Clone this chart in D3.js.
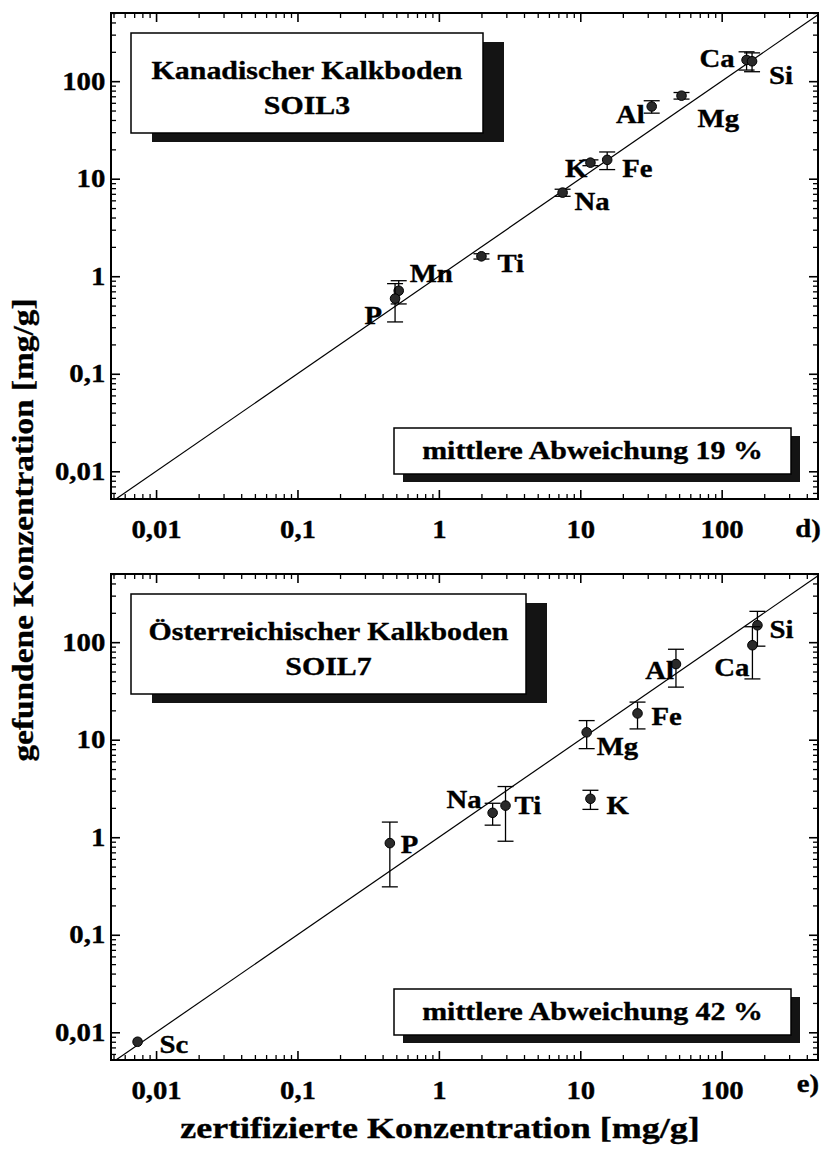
<!DOCTYPE html>
<html>
<head>
<meta charset="utf-8">
<script src="https://cdn.jsdelivr.net/npm/d3@7"></script>
<style>
  body { margin: 0; background: #fff; }
  text { font-family: "Liberation Serif", "Times New Roman", serif; font-weight: bold; fill: #000; stroke: #000; stroke-width: 0.35; }
</style>
</head>
<body>
<svg id="chart"></svg>
<script>
// SOIL3 - Kanadischer Kalkboden (panel d)
const elements3 = ["Ca", "Si", "Mg", "Al", "Fe", "K", "Na", "Ti", "Mn", "P"];
const certified3 = [150, 164, 52, 32, 15.5, 11.8, 7.5, 2.0, 0.52, 0.49];
const found3 = [165, 160, 71, 55, 15.6, 14.6, 7.2, 1.6, 0.71, 0.59];
const error3 = [35, 35, 5.5, 8, 3.2, 1.0, 0.6, 0.1, 0.19, 0.25];

// SOIL7 - Österreichischer Kalkboden (panel e)
const elements7 = ["Si", "Ca", "Al", "Fe", "Mg", "K", "Ti", "Na", "P", "Sc"];
const certified7 = [179, 165, 47.5, 25.4, 11.1, 11.8, 2.96, 2.4, 0.45, 0.0074];
const found7 = [149, 93, 59.6, 18.6, 11.9, 2.48, 2.11, 1.78, 0.87, 0.008];
const error7 = [58, 51, 25, 5.7, 3.8, 0.55, 1.2, 0.45, 0.56, 0];

const tickValues = [0.01, 0.1, 1, 10, 100];
const tickLabels = ["0,01", "0,1", "1", "10", "100"];

const titles3 = ["Kanadischer Kalkboden", "SOIL3"];
const titles7 = ["Österreichischer Kalkboden", "SOIL7"];
const deviation3 = "mittlere Abweichung 19 %";
const deviation7 = "mittlere Abweichung 42 %";
const xTitle = "zertifizierte Konzentration [mg/g]";
const yTitle = "gefundene Konzentration [mg/g]";

// label placement next to each dot: [dx, dy, anchor]
const labelPos3 = {
  Ca: [-12, 7, "end"], Si: [17, 23, "start"], Mg: [16, 31, "start"], Al: [-7, 17, "end"],
  K: [-3, 14, "end"], Fe: [15, 17, "start"], Na: [12, 17, "start"], Ti: [16, 16, "start"],
  Mn: [11, -9, "start"], P: [-13, 25, "end"]
};
const labelPos7 = {
  Si: [12, 13, "start"], Ca: [-3, 31, "end"], Al: [-2, 15, "end"], Fe: [14, 12, "start"],
  Mg: [10, 23, "start"], K: [16, 15, "start"], Ti: [9, 8, "start"], Na: [-11, -5, "end"],
  P: [11, 10, "start"], Sc: [22, 11, "start"]
};

const W = 829, H = 1162;
const SX = 1.15;          // scanned type is a bit wider than Liberation Serif
const plotH = 486;
const capW = 8;

const svg = d3.select("#chart").attr("width", W).attr("height", H);

const x = d3.scaleLog().domain([0.0048, 480]).range([111, 818]);
const yDomain = [0.0052, 500];

const isMajor = d => Math.abs(Math.log10(d) - Math.round(Math.log10(d))) < 1e-9;
const xMinor = x.ticks().filter(d => !isMajor(d));

function styleText(sel, size) {
  sel.attr("font-size", size)
    .attr("font-family", "'Liberation Serif', 'Times New Roman', serif")
    .attr("font-weight", "bold");
}

function stretchedText(g, px, py, str, size, anchor, sx) {
  return g.append("text")
    .attr("transform", `translate(${px},${py}) scale(${sx || SX},1)`)
    .attr("text-anchor", anchor || "middle")
    .attr("font-size", size)
    .text(str);
}

function drawPanel(top, elements, certified, found, errors, labelPos, titles, deviation, letter) {
  const y = d3.scaleLog().domain(yDomain).range([top + plotH, top]);
  const yMinor = y.ticks().filter(d => !isMajor(d));
  const [left, right] = x.range();
  const bottom = top + plotH;
  const g = svg.append("g");

  const clipId = "clip" + top;
  g.append("clipPath").attr("id", clipId)
    .append("rect").attr("x", left).attr("y", top).attr("width", right - left).attr("height", plotH);

  // minor ticks on all four sides
  const axes = [
    [d3.axisBottom(x).tickValues(xMinor), `translate(0,${bottom})`],
    [d3.axisTop(x).tickValues(xMinor), `translate(0,${top})`],
    [d3.axisLeft(y).tickValues(yMinor), `translate(${left},0)`],
    [d3.axisRight(y).tickValues(yMinor), `translate(${right},0)`]
  ];
  axes.forEach(([ax, tr]) => {
    g.append("g").attr("transform", tr)
      .call(ax.tickSize(-5).tickFormat(""))
      .call(a => a.select(".domain").remove())
      .selectAll("line").attr("stroke-width", 1.3);
  });

  // major ticks, labelled bottom and left
  const majors = [
    [d3.axisBottom(x).tickPadding(21).tickFormat((d, i) => tickLabels[i]), `translate(0,${bottom})`, true],
    [d3.axisTop(x).tickFormat(""), `translate(0,${top})`, false],
    [d3.axisLeft(y).tickPadding(5).tickFormat((d, i) => tickLabels[i]), `translate(${left},0)`, true],
    [d3.axisRight(y).tickFormat(""), `translate(${right},0)`, false]
  ];
  majors.forEach(([ax, tr, labelled]) => {
    const a = g.append("g").attr("transform", tr)
      .call(ax.tickValues(tickValues).tickSize(-9))
      .call(s => s.select(".domain").remove());
    a.selectAll("line").attr("stroke-width", 1.6);
    if (labelled) {
      a.selectAll("text").call(styleText, 25).attr("fill", "#000")
        .attr("transform", `scale(${SX},1)`);
    }
  });

  // frame
  g.append("rect")
    .attr("x", left).attr("y", top).attr("width", right - left).attr("height", plotH)
    .attr("fill", "none").attr("stroke", "#000").attr("stroke-width", 2);

  // 1:1 line
  const lo = Math.max(x.domain()[0], yDomain[0]);
  const hi = Math.min(x.domain()[1], yDomain[1]);
  g.append("line")
    .attr("clip-path", `url(#${clipId})`)
    .attr("x1", x(lo)).attr("y1", y(lo)).attr("x2", x(hi)).attr("y2", y(hi))
    .attr("stroke", "#000").attr("stroke-width", 1.2);

  // title box with shadow
  const bx = left + 20, by = top + 20, bw = titles[0].length > 22 ? 395 : 352, bh = 100;
  g.append("rect").attr("x", bx + 21).attr("y", by + 9).attr("width", bw).attr("height", bh)
    .attr("fill", "#141414");
  g.append("rect").attr("x", bx).attr("y", by).attr("width", bw).attr("height", bh)
    .attr("fill", "#fff").attr("stroke", "#000").attr("stroke-width", 1.5);
  stretchedText(g, bx + bw / 2, by + 46, titles[0], 26);
  stretchedText(g, bx + bw / 2, by + 81, titles[1], 26);

  // deviation box with shadow
  const dx0 = left + 283, dy0 = top + 415, dw = 397, dh = 46;
  g.append("rect").attr("x", dx0 + 9).attr("y", dy0 + 8).attr("width", dw).attr("height", dh)
    .attr("fill", "#141414");
  g.append("rect").attr("x", dx0).attr("y", dy0).attr("width", dw).attr("height", dh)
    .attr("fill", "#fff").attr("stroke", "#000").attr("stroke-width", 1.5);
  stretchedText(g, dx0 + dw / 2, dy0 + 31, deviation, 26);

  // error bars and points
  const pts = g.selectAll(".pt")
    .data(elements.map((el, i) => ({ el, cx: certified[i], cy: found[i], e: errors[i] })))
    .enter().append("g").attr("class", "pt");

  pts.filter(d => d.e > 0).each(function (d) {
    const s = d3.select(this);
    const px = x(d.cx), y1 = y(d.cy + d.e), y2 = y(Math.max(d.cy - d.e, yDomain[0]));
    s.append("line").attr("x1", px).attr("x2", px).attr("y1", y1).attr("y2", y2);
    s.append("line").attr("x1", px - capW).attr("x2", px + capW).attr("y1", y1).attr("y2", y1);
    s.append("line").attr("x1", px - capW).attr("x2", px + capW).attr("y1", y2).attr("y2", y2);
    s.selectAll("line").attr("stroke", "#000").attr("stroke-width", 1.3);
  });

  pts.append("circle")
    .attr("cx", d => x(d.cx)).attr("cy", d => y(d.cy)).attr("r", 4.8)
    .attr("fill", "#2a2a2a").attr("stroke", "#000").attr("stroke-width", 1);

  pts.each(function (d) {
    const [ddx, ddy, anchor] = labelPos[d.el];
    stretchedText(d3.select(this), x(d.cx) + ddx, y(d.cy) + ddy, d.el, 25, anchor);
  });

  // panel letter
  stretchedText(g, right - 10, bottom + (letter === "d)" ? 38 : 32), letter, 25);
}

drawPanel(13, elements3, certified3, found3, error3, labelPos3, titles3, deviation3, "d)");
drawPanel(574, elements7, certified7, found7, error7, labelPos7, titles7, deviation7, "e)");

// axis titles
stretchedText(svg, 440, 1138, xTitle, 30, "middle", 1.2);

svg.append("text")
  .attr("transform", `translate(33,530) rotate(-90) scale(${SX},1)`)
  .attr("text-anchor", "middle").attr("font-size", 29)
  .text(yTitle);
</script>
</body>
</html>
